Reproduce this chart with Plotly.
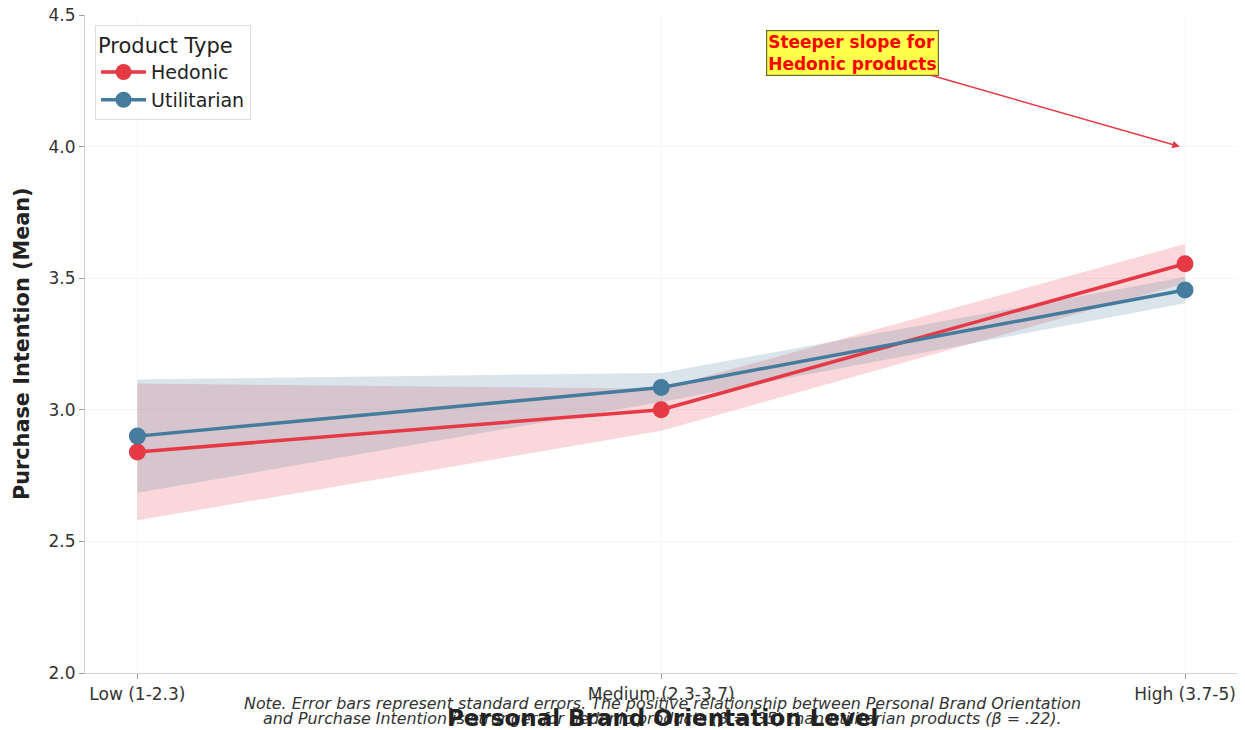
import plotly.graph_objects as go

categories = ["Low (1-2.3)", "Medium (2.3-3.7)", "High (3.7-5)"]
hedonic_mean = [2.84, 3.00, 3.555]
hedonic_se = [0.26, 0.08, 0.075]
utilitarian_mean = [2.90, 3.085, 3.455]
utilitarian_se = [0.215, 0.055, 0.05]
yticks = [2.0, 2.5, 3.0, 3.5, 4.0, 4.5]

xs = list(range(len(categories)))
RED = "#E63946"
BLUE = "#457B9D"

fig = go.Figure()

def band(mean, se, fillcolor):
    upper = [m + s for m, s in zip(mean, se)]
    lower = [m - s for m, s in zip(mean, se)]
    fig.add_trace(go.Scatter(x=xs + xs[::-1], y=upper + lower[::-1], fill="toself",
                             fillcolor=fillcolor, line=dict(width=0), mode="lines",
                             hoverinfo="skip", showlegend=False))

band(hedonic_mean, hedonic_se, "rgba(230,57,70,0.2)")
band(utilitarian_mean, utilitarian_se, "rgba(69,123,157,0.2)")

fig.add_trace(go.Scatter(x=xs, y=hedonic_mean, name="Hedonic", mode="lines+markers",
                         line=dict(color=RED, width=3.5), marker=dict(size=17, color=RED)))
fig.add_trace(go.Scatter(x=xs, y=utilitarian_mean, name="Utilitarian", mode="lines+markers",
                         line=dict(color=BLUE, width=3.5), marker=dict(size=17, color=BLUE)))

fig.add_annotation(x=1.99, y=4.0, xref="x", yref="y", ax=1.366, ay=4.356, axref="x", ayref="y",
                   text="<b>Steeper slope for<br>Hedonic products</b>", align="left",
                   font=dict(family="DejaVu Sans", size=17, color="red"),
                   showarrow=True, arrowhead=2, arrowsize=1, arrowwidth=1.5, arrowcolor="#E63946",
                   bgcolor="rgba(255,255,0,0.7)", bordercolor="#6b6b2a", borderwidth=1.2, borderpad=1)

note_lines = [
    "<i>Note. Error bars represent standard errors. The positive relationship between Personal Brand Orientation</i>",
    "<i>and Purchase Intention is stronger for hedonic products (β = .35) than utilitarian products (β = .22).</i>",
]
for text, yp in zip(note_lines, [-0.0456, -0.0699]):
    fig.add_annotation(x=0.5, y=yp, xref="paper", yref="paper", text=text, showarrow=False,
                       xanchor="center", yanchor="middle", align="center",
                       font=dict(family="DejaVu Sans", size=15.9, color="#333333"))

fig.add_annotation(x=0.5, y=-0.0684, xref="paper", yref="paper",
                   text="<b>Personal Brand Orientation Level</b>", showarrow=False,
                   xanchor="center", yanchor="middle",
                   font=dict(family="DejaVu Sans", size=23, color="#222222"))
fig.add_annotation(x=-0.0545, y=0.5, xref="paper", yref="paper",
                   text="<b>Purchase Intention (Mean)</b>", showarrow=False, textangle=-90,
                   xanchor="center", yanchor="middle",
                   font=dict(family="DejaVu Sans", size=20.8, color="#222222"))

fig.update_layout(
    width=1237, height=722,
    margin=dict(l=77, r=5, t=7, b=57, autoexpand=False),
    plot_bgcolor="white", paper_bgcolor="white",
    font=dict(family="DejaVu Sans", color="#333333"),
    legend=dict(title=dict(text="Product Type", font=dict(size=21, color="#222222")),
                x=0.0087, y=0.985, xanchor="left", yanchor="top",
                bgcolor="rgba(255,255,255,0.9)", bordercolor="#dddddd", borderwidth=1,
                itemwidth=45,
                font=dict(size=19, color="#222222")),
    xaxis=dict(range=[-0.1, 2.105], tickvals=xs, ticktext=categories, automargin=False,
               showgrid=True, gridcolor="rgba(0,0,0,0.035)", zeroline=False,
               showline=True, linecolor="#d0d0d0", linewidth=1.2,
               ticks="outside", ticklen=5, tickcolor="#999999", ticklabeloverflow="allow",
               tickfont=dict(size=17, color="#333333")),
    yaxis=dict(range=[2.0, 4.5], tickvals=yticks, ticktext=[f"{v:.1f}" for v in yticks],
               automargin=False,
               showgrid=True, gridcolor="rgba(0,0,0,0.035)", zeroline=False,
               showline=True, linecolor="#d0d0d0", linewidth=1.2,
               ticks="outside", ticklen=5, tickcolor="#999999", ticklabeloverflow="allow",
               tickfont=dict(size=17, color="#333333")),
)

fig.write_html("out.html")
